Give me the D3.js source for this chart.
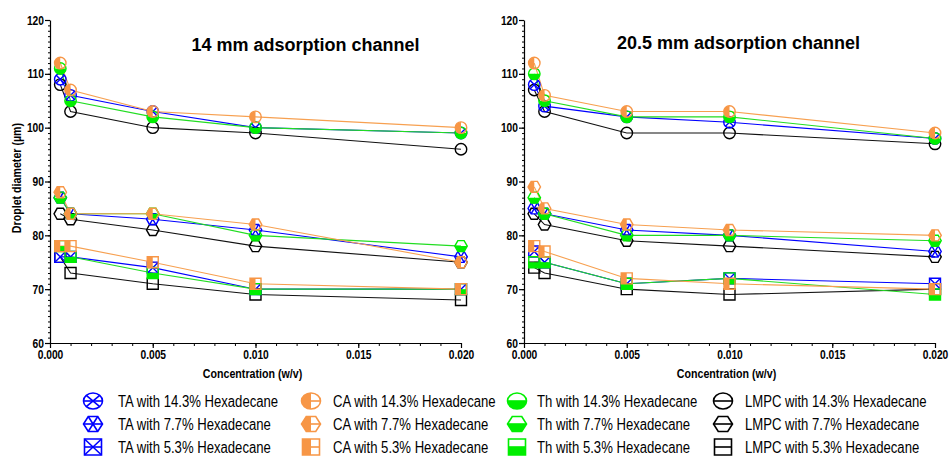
<!DOCTYPE html>
<html>
<head>
<meta charset="utf-8">
<script src="https://cdn.jsdelivr.net/npm/d3@7"></script>
<style>
  html, body { margin: 0; padding: 0; background: #fff; }
  svg { display: block; }
</style>
</head>
<body>
<svg id="chart" width="949" height="460"></svg>
<script>
// ---- data ----
const concentrations = [0.0005, 0.001, 0.005, 0.010, 0.020];
const xTickValues = [0.000, 0.005, 0.010, 0.015, 0.020];
const yTickValues = [60, 70, 80, 90, 100, 110, 120];
const panelTitles = ["14 mm adsorption channel", "20.5 mm adsorption channel"];
const surfactants = ["TA", "CA", "Th", "LMPC"];
const hexadecaneLevels = ["14.3%", "7.7%", "5.3%"];

// droplet diameter (µm), rows = 14.3%, 7.7%, 5.3% hexadecane
const ch14_TA   = [[109, 106, 103, 100, 99], [87, 84, 83, 81, 76], [76, 76, 74, 70, 70]];
const ch14_CA   = [[112, 107, 103, 102, 100], [88, 84, 84, 82, 75], [78, 78, 75, 71, 70]];
const ch14_Th   = [[111, 105, 102, 100, 99], [87, 84, 84, 80, 78], [78, 76, 73, 70, 70]];
const ch14_LMPC = [[108, 103, 100, 99, 96], [84, 83, 81, 78, 75], [76, 73, 71, 69, 68]];

const ch205_TA   = [[108, 104, 102, 101, 98], [85, 84, 81, 80, 77], [77, 75, 71, 72, 71]];
const ch205_CA   = [[112, 106, 103, 103, 99], [89, 85, 82, 81, 80], [78, 77, 72, 71, 70]];
const ch205_Th   = [[110, 105, 102, 102, 98], [87, 84, 80, 80, 79], [75, 75, 71, 72, 69]];
const ch205_LMPC = [[107, 103, 99, 99, 97], [84, 82, 79, 78, 76], [74, 73, 70, 69, 70]];

const panelData = [
  { TA: ch14_TA, CA: ch14_CA, Th: ch14_Th, LMPC: ch14_LMPC },
  { TA: ch205_TA, CA: ch205_CA, Th: ch205_Th, LMPC: ch205_LMPC }
];

// ---- styling ----
const colors = { TA: "#0000ff", CA: "#f79646", Th: "#00ee00", LMPC: "#000000" };
const lineColors = { TA: "#0000ff", CA: "#f7a050", Th: "#22dd22", LMPC: "#111111" };
const shapes = ["circle", "hexagon", "square"];
const drawOrder = ["LMPC", "TA", "Th", "CA"];

const svg = d3.select("#chart");

// condensed label face; falls back to a horizontally squeezed regular face
const NARROW = "'Liberation Sans Narrow', 'Arial Narrow'";
const REG = "'Liberation Sans', Arial, sans-serif";
let narrowFamily = NARROW + ", " + REG, narrowScale = 1;
(function checkNarrow() {
  const t1 = svg.append("text").attr("font-family", NARROW + ", monospace").attr("font-size", 40).text("Hexadecane mm");
  const t2 = svg.append("text").attr("font-family", "monospace").attr("font-size", 40).text("Hexadecane mm");
  const same = Math.abs(t1.node().getComputedTextLength() - t2.node().getComputedTextLength()) < 0.5;
  t1.remove(); t2.remove();
  if (same) { narrowFamily = REG; narrowScale = 0.82; }
})();

function narrowText(g, x, y, str, size, weight, anchor, rotate) {
  const t = g.append("text")
    .attr("font-family", narrowFamily)
    .attr("font-size", size)
    .attr("font-weight", weight)
    .attr("text-anchor", anchor)
    .attr("fill", "#000")
    .text(str);
  const rot = rotate ? ` rotate(${rotate})` : "";
  t.attr("transform", `translate(${x},${y})${rot} scale(${narrowScale},1)`);
  return t;
}

// ---- marker geometry ----
function outlinePath(shape, w, h) {
  const rx = w / 2, ry = h / 2;
  if (shape === "circle")
    return `M${rx},0A${rx},${ry} 0 1 1 ${-rx},0A${rx},${ry} 0 1 1 ${rx},0Z`;
  if (shape === "hexagon")
    return `M${rx},0L${rx / 2},${ry}L${-rx / 2},${ry}L${-rx},0L${-rx / 2},${-ry}L${rx / 2},${-ry}Z`;
  return `M${-rx},${-ry}H${rx}V${ry}H${-rx}Z`;
}
function leftHalfPath(shape, w, h) {
  const rx = w / 2, ry = h / 2;
  if (shape === "circle") return `M0,${-ry}A${rx},${ry} 0 0 0 0,${ry}Z`;
  if (shape === "hexagon") return `M0,${-ry}L${-rx / 2},${-ry}L${-rx},0L${-rx / 2},${ry}L0,${ry}Z`;
  return `M0,${-ry}H${-rx}V${ry}H0Z`;
}
function bottomHalfPath(shape, w, h) {
  const rx = w / 2, ry = h / 2;
  if (shape === "circle") return `M${-rx},0A${rx},${ry} 0 0 0 ${rx},0Z`;
  if (shape === "hexagon") return `M${-rx},0L${-rx / 2},${ry}L${rx / 2},${ry}L${rx},0Z`;
  return `M${-rx},0V${ry}H${rx}V0Z`;
}
function crossPath(shape, w, h) {
  const rx = w / 2, ry = h / 2;
  if (shape === "circle") {
    const a = rx * Math.SQRT1_2, b = ry * Math.SQRT1_2;
    return `M${-a},${-b}L${a},${b}M${a},${-b}L${-a},${b}`;
  }
  if (shape === "hexagon")
    return `M${-rx / 2},${-ry}L${rx / 2},${ry}M${rx / 2},${-ry}L${-rx / 2},${ry}`;
  return `M${-rx},${-ry}L${rx},${ry}M${rx},${-ry}L${-rx},${ry}`;
}

function drawMarker(g, surf, shape, w, h, sw, withLine) {
  const c = colors[surf];
  if (surf === "CA") {
    g.append("path").attr("d", leftHalfPath(shape, w, h)).attr("fill", c);
  } else if (surf === "Th") {
    g.append("path").attr("d", bottomHalfPath(shape, w, h)).attr("fill", c);
  }
  if (withLine) {
    g.append("line").attr("x1", -w / 2).attr("x2", w / 2).attr("y1", 0).attr("y2", 0)
      .attr("stroke", c).attr("stroke-width", sw);
  }
  if (surf === "TA") {
    g.append("path").attr("d", crossPath(shape, w, h)).attr("fill", "none")
      .attr("stroke", c).attr("stroke-width", sw);
  }
  g.append("path").attr("d", outlinePath(shape, w, h)).attr("fill", "none")
    .attr("stroke", c).attr("stroke-width", sw);
}

// ---- panels ----
const panels = [
  { x0: 50, x1: 461 },
  { x0: 524, x1: 935 }
];
const yTop = 20, yBot = 343;
const markerSize = { circle: [11.5, 11.5], hexagon: [12.5, 11], square: [11, 11] };

panels.forEach((p, pi) => {
  const x = d3.scaleLinear().domain([0, 0.02]).range([p.x0, p.x1]);
  const y = d3.scaleLinear().domain([60, 120]).range([yBot, yTop]);
  const g = svg.append("g");

  // minor ticks
  g.append("g").attr("transform", `translate(${p.x0},0)`)
    .call(d3.axisLeft(y).tickValues(d3.range(60, 121, 1)).tickSize(2).tickFormat(""))
    .call(a => a.select(".domain").remove());
  g.append("g").attr("transform", `translate(0,${yBot})`)
    .call(d3.axisBottom(x).tickValues(d3.range(0, 0.0201, 0.001)).tickSize(3).tickFormat(""))
    .call(a => a.select(".domain").remove());

  // major axes
  const yAxis = g.append("g").attr("transform", `translate(${p.x0},0)`)
    .call(d3.axisLeft(y).tickValues(yTickValues).tickSize(5).tickSizeOuter(0).tickPadding(1).tickFormat(d3.format("d")));
  const xAxis = g.append("g").attr("transform", `translate(0,${yBot})`)
    .call(d3.axisBottom(x).tickValues(xTickValues).tickSize(5).tickSizeOuter(0).tickPadding(2).tickFormat(d3.format(".3f")));

  [yAxis, xAxis].forEach(ax => {
    ax.selectAll("path, line").attr("stroke", "#000").attr("stroke-width", 1.2);
    ax.selectAll("text")
      .attr("font-family", narrowFamily)
      .attr("font-size", 12.5)
      .attr("font-weight", "bold")
      .attr("fill", "#000")
      .each(function () {
        const t = d3.select(this);
        const tx = +(t.attr("x") || 0);
        t.attr("x", tx / narrowScale).attr("transform", `scale(${narrowScale},1)`);
      });
  });
  g.selectAll(".tick line").attr("stroke", "#000");

  // title
  svg.append("text")
    .attr("x", (p.x0 + p.x1) / 2 + (pi === 0 ? 50 : 9))
    .attr("y", pi === 0 ? 51 : 49)
    .attr("text-anchor", "middle")
    .attr("font-family", REG)
    .attr("font-weight", "bold")
    .attr("font-size", 18)
    .text(panelTitles[pi]);

  // x axis title
  narrowText(svg, (p.x0 + p.x1) / 2 - 3, 378, "Concentration (w/v)", 13, "bold", "middle");

  // series lines
  const line = d3.line().x((d, i) => x(concentrations[i])).y(d => y(d));
  const data = panelData[pi];
  drawOrder.forEach(s => {
    data[s].forEach(vals => {
      g.append("path").datum(vals).attr("d", line)
        .attr("fill", "none").attr("stroke", lineColors[s]).attr("stroke-width", 1.1);
    });
  });
  // markers
  drawOrder.forEach(s => {
    data[s].forEach((vals, li) => {
      const shape = shapes[li];
      const [w, h] = markerSize[shape];
      vals.forEach((v, i) => {
        const mg = g.append("g").attr("transform", `translate(${x(concentrations[i])},${y(v)})`);
        drawMarker(mg, s, shape, w, h, 1.4, false);
      });
    });
  });
});

// y axis title
narrowText(svg, 21, 178, "Droplet diameter (µm)", 13, "bold", "middle", -90);

// ---- legend ----
const legendCols = [{ mx: 93, tx: 118 }, { mx: 311, tx: 333 }, { mx: 517, tx: 537 }, { mx: 723, tx: 745 }];
const legendRows = [401, 424, 447];
const legendSize = { circle: [19, 16], hexagon: [19, 15], square: [17, 16] };
surfactants.forEach((s, ci) => {
  hexadecaneLevels.forEach((lvl, ri) => {
    const shape = shapes[ri];
    const [w, h] = legendSize[shape];
    const mg = svg.append("g").attr("transform", `translate(${legendCols[ci].mx},${legendRows[ri]})`);
    drawMarker(mg, s, shape, w, h, 1.6, true);
    narrowText(svg, legendCols[ci].tx, legendRows[ri] + 5.5, `${s} with ${lvl} Hexadecane`, 16, "normal", "start");
  });
});
</script>
</body>
</html>
